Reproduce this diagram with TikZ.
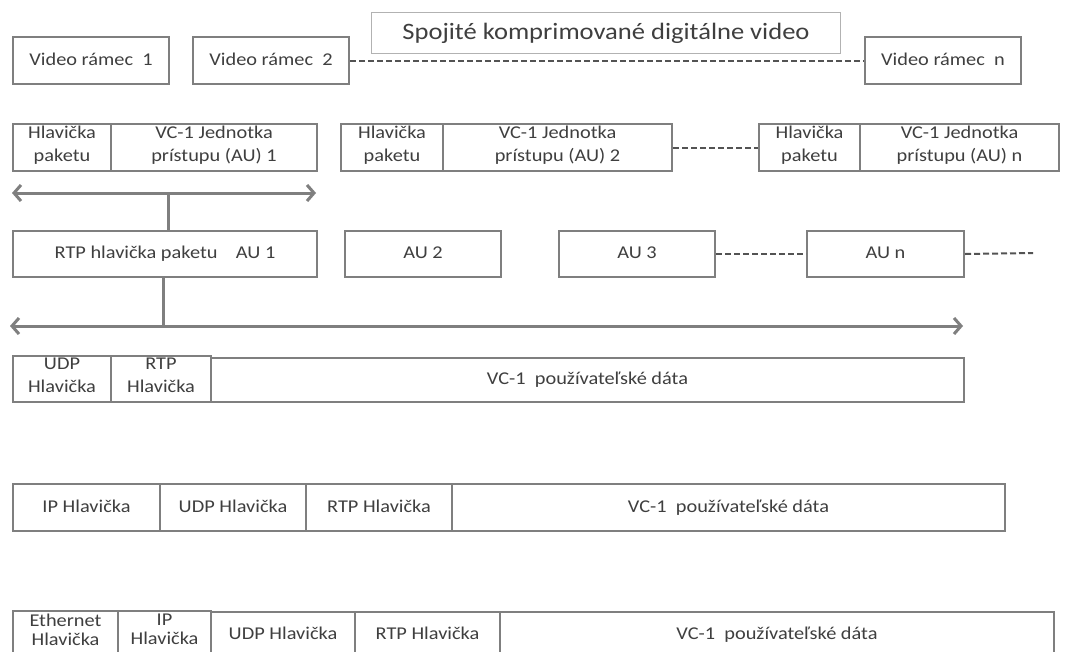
\documentclass[tikz,border=0pt]{standalone}
\usepackage{fontspec}
\setmainfont[FakeStretch=1.13]{Carlito}
\usetikzlibrary{arrows.meta}
\definecolor{ln}{HTML}{7F7F7F}
\definecolor{tx}{HTML}{3F3F3F}
\tikzset{
  cell/.style={draw=ln, line width=2pt, inner sep=0pt, anchor=north west, align=center,
    text=tx, font=\fontsize{18}{23}\selectfont,
    execute at begin node=\strut, execute at end node=\strut},
  tight/.style={font=\fontsize{18}{19}\selectfont, execute at begin node={}, execute at end node={}},
  dash line/.style={draw=ln!65!black, line width=2pt, dash pattern=on 6pt off 3pt},
  bigarrow/.style={draw=ln, line width=3pt, {Straight Barb[length=7pt,width=16pt,line width=3pt]}-{Straight Barb[length=7pt,width=16pt,line width=3pt]}},
  stem/.style={draw=ln, line width=3pt}
}
\newcommand{\cellat}[7][]{% opts, name, x1, y1, x2, y2, text
  \node[cell, #1, minimum width={#5-#3}, minimum height={#6-#4}] (#2) at (#3,#4) {#7};}
\begin{document}
\begin{tikzpicture}[x=1pt, y=-1pt]
\useasboundingbox (0,0) rectangle (1092,651);
\fill[white] (0,0) rectangle (1092,651);
% title
\node[draw=ln!60, line width=1pt, anchor=north west, minimum width=469pt, minimum height=41pt,
  inner sep=0pt, text=tx, font=\fontsize{23.5}{28}\selectfont] (title) at (371,12) {Spojité komprimované digitálne video};
% row 1
\cellat{v1}{12}{36}{168}{83}{Video rámec\ \ 1}
\cellat{v2}{192}{36}{348}{83}{Video rámec\ \ 2}
\cellat{vn}{864}{36}{1020}{83}{Video rámec\ \ n}
\draw[dash line] (v2.east) -- (vn.west);
% row 2
\cellat{h1}{12}{123}{110}{170}{Hlavička\\paketu}
\cellat{a1}{110}{123}{316}{170}{VC-1 Jednotka\\prístupu (AU) 1}
\cellat{h2}{340}{123}{442}{170}{Hlavička\\paketu}
\cellat{a2}{442}{123}{671}{170}{VC-1 Jednotka\\prístupu (AU) 2}
\cellat{hn}{758}{123}{859}{170}{Hlavička\\paketu}
\cellat{an}{859}{123}{1058}{170}{VC-1 Jednotka\\prístupu (AU) n}
\draw[dash line] (a2.east) -- (hn.west);
% arrow 1
\coordinate (p1l) at (12,193);
\coordinate (p1r) at (316,193);
\coordinate (j1) at (168,193);
\draw[bigarrow] (p1l) -- (p1r);
% row 3
\cellat{rtp}{12}{230}{316}{276}{RTP hlavička paketu\ \ \ \ AU 1}
\cellat{au2}{344}{230}{500}{276}{AU 2}
\cellat{au3}{558}{230}{714}{276}{AU 3}
\cellat{aun}{806}{230}{963}{276}{AU n}
\coordinate (dend) at (1033,253);
\draw[stem] (j1) -- (j1 |- rtp.north);
\draw[dash line] (au3.east) -- (aun.west);
\draw[dash line] (aun.east) -- (dend);
% arrow 2
\coordinate (p2l) at (10,326);
\coordinate (p2r) at (963,326);
\coordinate (j2) at (163,326);
\draw[stem] (j2 |- rtp.south) -- (j2);
\draw[bigarrow] (p2l) -- (p2r);
% row 4
\cellat{u4}{12}{355}{110}{401}{UDP\\Hlavička}
\cellat{r4}{110}{355}{210}{401}{RTP\\Hlavička}
\cellat{d4}{210}{357}{963}{401}{VC-1\ \ používateľské dáta}
% row 5
\cellat{i5}{12}{483}{159}{530}{IP Hlavička}
\cellat{u5}{159}{483}{305}{530}{UDP Hlavička}
\cellat{r5}{305}{483}{451}{530}{RTP Hlavička}
\cellat{d5}{451}{483}{1004}{530}{VC-1\ \ používateľské dáta}
% row 6
\cellat[tight]{e6}{12}{610}{117}{653}{Ethernet\\Hlavička}
\cellat[tight]{i6}{117}{610}{210}{653}{IP\\Hlavička}
\cellat{u6}{210}{611}{354}{657}{UDP Hlavička}
\cellat{r6}{354}{611}{499}{657}{RTP Hlavička}
\cellat{d6}{499}{611}{1053}{657}{VC-1\ \ používateľské dáta}
\end{tikzpicture}
\end{document}
